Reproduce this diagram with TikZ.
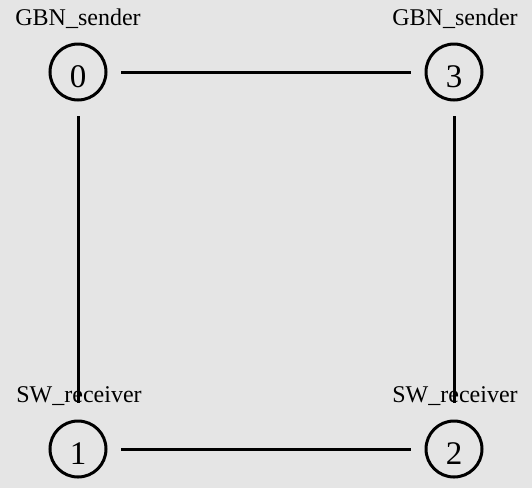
\documentclass[tikz,border=0pt]{standalone}
\usepackage{fontspec}
\setmainfont{Liberation Serif}
\usepackage{tikz}
\definecolor{bggray}{HTML}{E5E5E5}
\tikzstyle{vertex}=[circle,draw,line width=3pt,minimum size=56pt,inner sep=0pt,text height=30pt,text depth=0pt,font=\fontsize{33}{33}\selectfont]

\begin{document}
\begin{tikzpicture}[x=1pt,y=-1pt,line width=3pt]
    \tikzstyle{vlabel}=[anchor=base,inner sep=0pt,font=\fontsize{24}{24}\selectfont]
    \tikzstyle{edge}=[shorten <=13.5pt,shorten >=13.5pt]
    \fill[bggray] (0,0) rectangle (532,488);
    \useasboundingbox (0,0) rectangle (532,488);
    \node[vertex] (G0) at (78,72)   {0};
    \node[vertex] (G3) at (454,72)  {3};
    \node[vertex] (G1) at (78,449)  {1};
    \node[vertex] (G2) at (454,449) {2};
    \node[vlabel] (L0) at (78,25)   {GBN\_sender};
    \node[vlabel] (L3) at (455,25)  {GBN\_sender};
    \node[vlabel] (L1) at (79,402)  {SW\_receiver};
    \node[vlabel] (L2) at (455,402) {SW\_receiver};
    \draw[edge] (G0) -- (G3);
    \draw[edge] (G1) -- (G2);
    \draw[shorten <=14.5pt,shorten >=16.5pt] (G0) -- (G1);
    \draw[shorten <=14.5pt,shorten >=16.5pt] (G3) -- (G2);
\end{tikzpicture}
\end{document}
